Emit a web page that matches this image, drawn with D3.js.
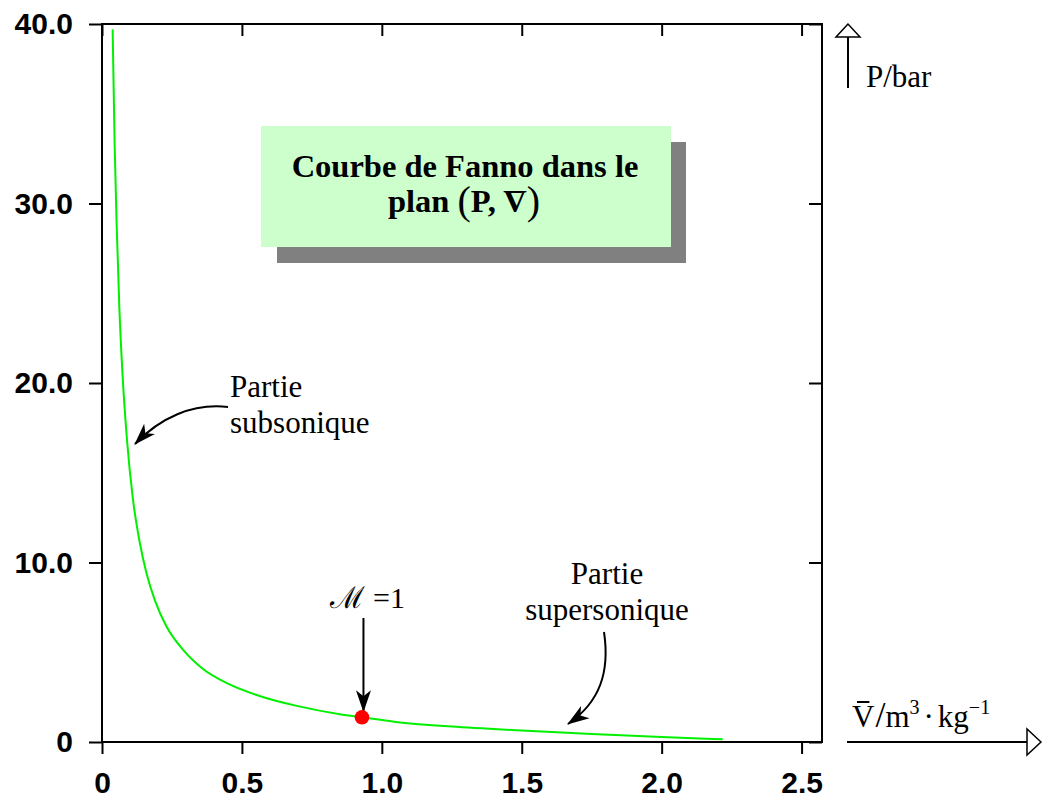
<!DOCTYPE html>
<html>
<head>
<meta charset="utf-8">
<script src="https://cdn.jsdelivr.net/npm/d3@7"></script>
<style>
  html, body { margin: 0; padding: 0; background: #fff; }
  svg { display: block; }
  .tick text { font-family: "Liberation Sans", Arial, sans-serif; font-weight: bold; font-size: 30px; fill: #000; }
  .tick line { stroke: #000; stroke-width: 2; }
  .serif { font-family: "Liberation Serif", "Times New Roman", serif; fill: #000; }
</style>
</head>
<body>
<div id="chart"></div>
<script>
// curve (specific volume in m3/kg, pressure in bar)
const volume   = [0.038, 0.045, 0.052, 0.062, 0.074, 0.090, 0.110, 0.135, 0.160, 0.190, 0.230, 0.290,
                  0.360, 0.450, 0.560, 0.700, 0.850, 0.929, 1.050, 1.250, 1.500, 1.750, 2.000, 2.218];
const pressure = [39.7, 33.4, 29.0, 24.2, 20.3, 16.7, 13.6, 11.1, 9.35, 7.85, 6.45, 5.13,
                  4.08, 3.25, 2.58, 2.00, 1.55, 1.376, 1.12, 0.86, 0.64, 0.45, 0.28, 0.15];
// sonic point (M = 1)
const critical = { v: 0.929, p: 1.376 };

const xTicks = [0, 0.5, 1.0, 1.5, 2.0, 2.5];
const yTicks = [0, 10, 20, 30, 40];
const xLabels = ["0", "0.5", "1.0", "1.5", "2.0", "2.5"];
const yLabels = ["0", "10.0", "20.0", "30.0", "40.0"];

const width = 1043, height = 799;
const x = d3.scaleLinear().domain([0, 2.573]).range([102, 822]);
const y = d3.scaleLinear().domain([0, 40]).range([742, 24]);

const svg = d3.select("#chart").append("svg").attr("width", width).attr("height", height);

const defs = svg.append("defs");
defs.append("marker").attr("id", "head")
  .attr("markerUnits", "userSpaceOnUse").attr("viewBox", "-22 -9 24 18")
  .attr("markerWidth", 24).attr("markerHeight", 18).attr("refX", 0).attr("refY", 0)
  .attr("orient", "auto")
  .append("path").attr("d", "M1,0 L-21,-7.5 L-15,0 L-21,7.5 Z").attr("fill", "#000");

// axes
const fmt = (labels, ticks) => d => labels[ticks.indexOf(d)];
svg.append("g").attr("transform", `translate(${x(0)},0)`)
  .call(d3.axisLeft(y).tickValues(yTicks).tickSize(13).tickPadding(16).tickFormat(fmt(yLabels, yTicks)))
  .call(g => g.select(".domain").remove());
svg.append("g").attr("transform", `translate(0,${y(0)})`)
  .call(d3.axisBottom(x).tickValues(xTicks).tickSize(12).tickPadding(18).tickFormat(fmt(xLabels, xTicks)))
  .call(g => g.select(".domain").remove());
// inner ticks on right and top
svg.append("g").attr("transform", `translate(${x.range()[1]},0)`)
  .call(d3.axisLeft(y).tickValues(yTicks).tickSize(13).tickFormat(""))
  .call(g => g.select(".domain").remove());
svg.append("g").attr("transform", `translate(0,${y(40)})`)
  .call(d3.axisBottom(x).tickValues(xTicks).tickSize(12).tickFormat(""))
  .call(g => g.select(".domain").remove());
svg.selectAll(".tick text").attr("fill", "#000");

// frame
svg.append("rect")
  .attr("x", x(0)).attr("y", y(40))
  .attr("width", x.range()[1] - x(0)).attr("height", y(0) - y(40))
  .attr("fill", "none").attr("stroke", "#000").attr("stroke-width", 2);

// Fanno curve
const pts = volume.map((v, i) => [v, pressure[i]]);
svg.append("path").datum(pts)
  .attr("fill", "none").attr("stroke", "#00f000").attr("stroke-width", 2)
  .attr("d", d3.line().x(d => x(d[0])).y(d => y(d[1])).curve(d3.curveMonotoneX));

// M = 1 point and arrow
svg.append("line")
  .attr("x1", x(critical.v) + 1.5).attr("x2", x(critical.v) + 1.5)
  .attr("y1", 618).attr("y2", y(critical.p) - 6)
  .attr("stroke", "#000").attr("stroke-width", 2).attr("marker-end", "url(#head)");
svg.append("circle").attr("cx", x(critical.v)).attr("cy", y(critical.p)).attr("r", 7.3).attr("fill", "#ff0000");
const mt = svg.append("text").attr("class", "serif").attr("x", 330).attr("y", 608).attr("font-size", 30);
mt.append("tspan").text("\u2133");
mt.append("tspan").attr("dx", 8).text("=1");

// annotations
svg.append("path")
  .attr("d", "M228,407 C192,403 160,418 135,444")
  .attr("fill", "none").attr("stroke", "#000").attr("stroke-width", 2).attr("marker-end", "url(#head)");
svg.append("path")
  .attr("d", "M604,632 C610,672 600,702 568,724")
  .attr("fill", "none").attr("stroke", "#000").attr("stroke-width", 2).attr("marker-end", "url(#head)");

const sub = svg.append("text").attr("class", "serif").attr("font-size", 31);
sub.append("tspan").attr("x", 230).attr("y", 397).text("Partie");
sub.append("tspan").attr("x", 230).attr("y", 433).text("subsonique");
const sup = svg.append("text").attr("class", "serif").attr("font-size", 31).attr("text-anchor", "middle");
sup.append("tspan").attr("x", 607).attr("y", 584).text("Partie");
sup.append("tspan").attr("x", 607).attr("y", 620).text("supersonique");

// title box
svg.append("rect").attr("x", 277).attr("y", 142).attr("width", 409).attr("height", 121).attr("fill", "#808080");
svg.append("rect").attr("x", 261).attr("y", 126).attr("width", 410).attr("height", 121).attr("fill", "#ccffcc");
svg.append("text").attr("class", "serif").attr("x", 465).attr("y", 177)
  .attr("font-size", 32.5).attr("font-weight", "bold").attr("text-anchor", "middle")
  .text("Courbe de Fanno dans le");
const t2 = svg.append("text").attr("class", "serif").attr("x", 464).attr("y", 212)
  .attr("font-size", 32.5).attr("font-weight", "bold").attr("text-anchor", "middle");
t2.append("tspan").text("plan ");
t2.append("tspan").attr("font-size", 40).attr("font-weight", "normal").attr("dy", 2).text("(");
t2.append("tspan").attr("dy", -2).text("P, ");
t2.append("tspan").text("V");
t2.append("tspan").attr("font-size", 40).attr("font-weight", "normal").attr("dy", 2).text(")");
{
  const e = t2.node().getExtentOfChar(9);
  svg.append("line").attr("x1", e.x + 5).attr("x2", e.x + e.width - 5)
    .attr("y1", 192).attr("y2", 192).attr("stroke", "#000").attr("stroke-width", 2);
}

// axis arrows
svg.append("line").attr("x1", 848).attr("x2", 848).attr("y1", 37).attr("y2", 88)
  .attr("stroke", "#000").attr("stroke-width", 2);
svg.append("path").attr("d", "M848,24 L836,37 L860,37 Z")
  .attr("fill", "#fff").attr("stroke", "#000").attr("stroke-width", 1.5);
svg.append("text").attr("class", "serif").attr("x", 866).attr("y", 87).attr("font-size", 31).text("P/bar");

svg.append("line").attr("x1", 847).attr("x2", 1027).attr("y1", 742).attr("y2", 742)
  .attr("stroke", "#000").attr("stroke-width", 2);
svg.append("path").attr("d", "M1041,742 L1027,729 L1027,755 Z")
  .attr("fill", "#fff").attr("stroke", "#000").attr("stroke-width", 1.5);
const xl = svg.append("text").attr("class", "serif").attr("x", 852).attr("y", 727).attr("font-size", 31);
xl.append("tspan").text("V");
xl.append("tspan").attr("font-size", 36).attr("dx", 1).text("/");
xl.append("tspan").text("m");
xl.append("tspan").attr("font-size", 20).attr("dy", -13).text("3");
xl.append("tspan").attr("dy", 13).attr("dx", 4).text("\u00b7");
xl.append("tspan").attr("dx", 4).text("kg");
xl.append("tspan").attr("font-size", 20).attr("dy", -13).text("\u22121");
{
  const e = xl.node().getExtentOfChar(0);
  svg.append("line").attr("x1", e.x + 5).attr("x2", e.x + e.width - 5)
    .attr("y1", 702).attr("y2", 702).attr("stroke", "#000").attr("stroke-width", 2);
}
</script>
</body>
</html>
